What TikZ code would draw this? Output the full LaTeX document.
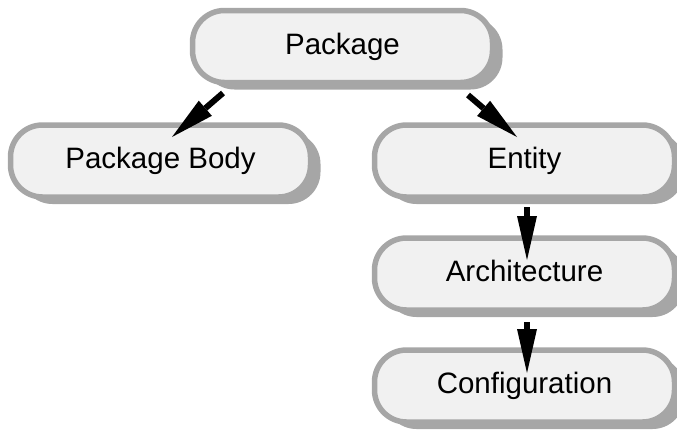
\documentclass[tikz,border=0pt]{standalone}
\usepackage{fontspec}
\setmainfont{Liberation Sans}
\usetikzlibrary{arrows.meta,shadows,calc}
\definecolor{bgray}{HTML}{A6A6A6}
\definecolor{nfill}{HTML}{F1F1F1}
\begin{document}
\begin{tikzpicture}[x=1pt,y=-1pt,
  box/.style={draw=bgray, fill=nfill, line width=5.5pt, rounded corners=32pt,
    minimum width=300pt, minimum height=72pt, inner sep=0pt,
    font=\fontsize{29.5}{31}\selectfont, text height=15.5pt, text depth=0pt,
    drop shadow={shadow xshift=10pt, shadow yshift=-7pt, fill=bgray, opacity=1}},
  arr/.style={line width=6pt, -{Triangle[length=44pt 0 0,width=20pt 0 0,line width=0pt 0 0]}}]
\useasboundingbox (0,0) rectangle (677,432);
\node[box] (pkg)  at (342.5,46.5) {Package};
\node[box] (body) at (160.5,161) {Package Body};
\node[box] (ent)  at (524.5,161) {Entity};
\node[box] (arch) at (524.5,274) {Architecture};
\node[box] (conf) at (524.5,386) {Configuration};
\draw[arr] ($(pkg.center)+(-119.5,46.5)$) -- ($(body.center)+(11.5,-24)$);
\draw[arr] ($(pkg.center)+(125.5,48.5)$) -- ($(ent.center)+(-7.5,-24)$);
\draw[arr] ($(ent.center)+(2.5,46)$) -- ($(arch.center)+(2.5,-14)$);
\draw[arr] ($(arch.center)+(2.5,48)$) -- ($(conf.center)+(2.5,-13)$);
\end{tikzpicture}
\end{document}
